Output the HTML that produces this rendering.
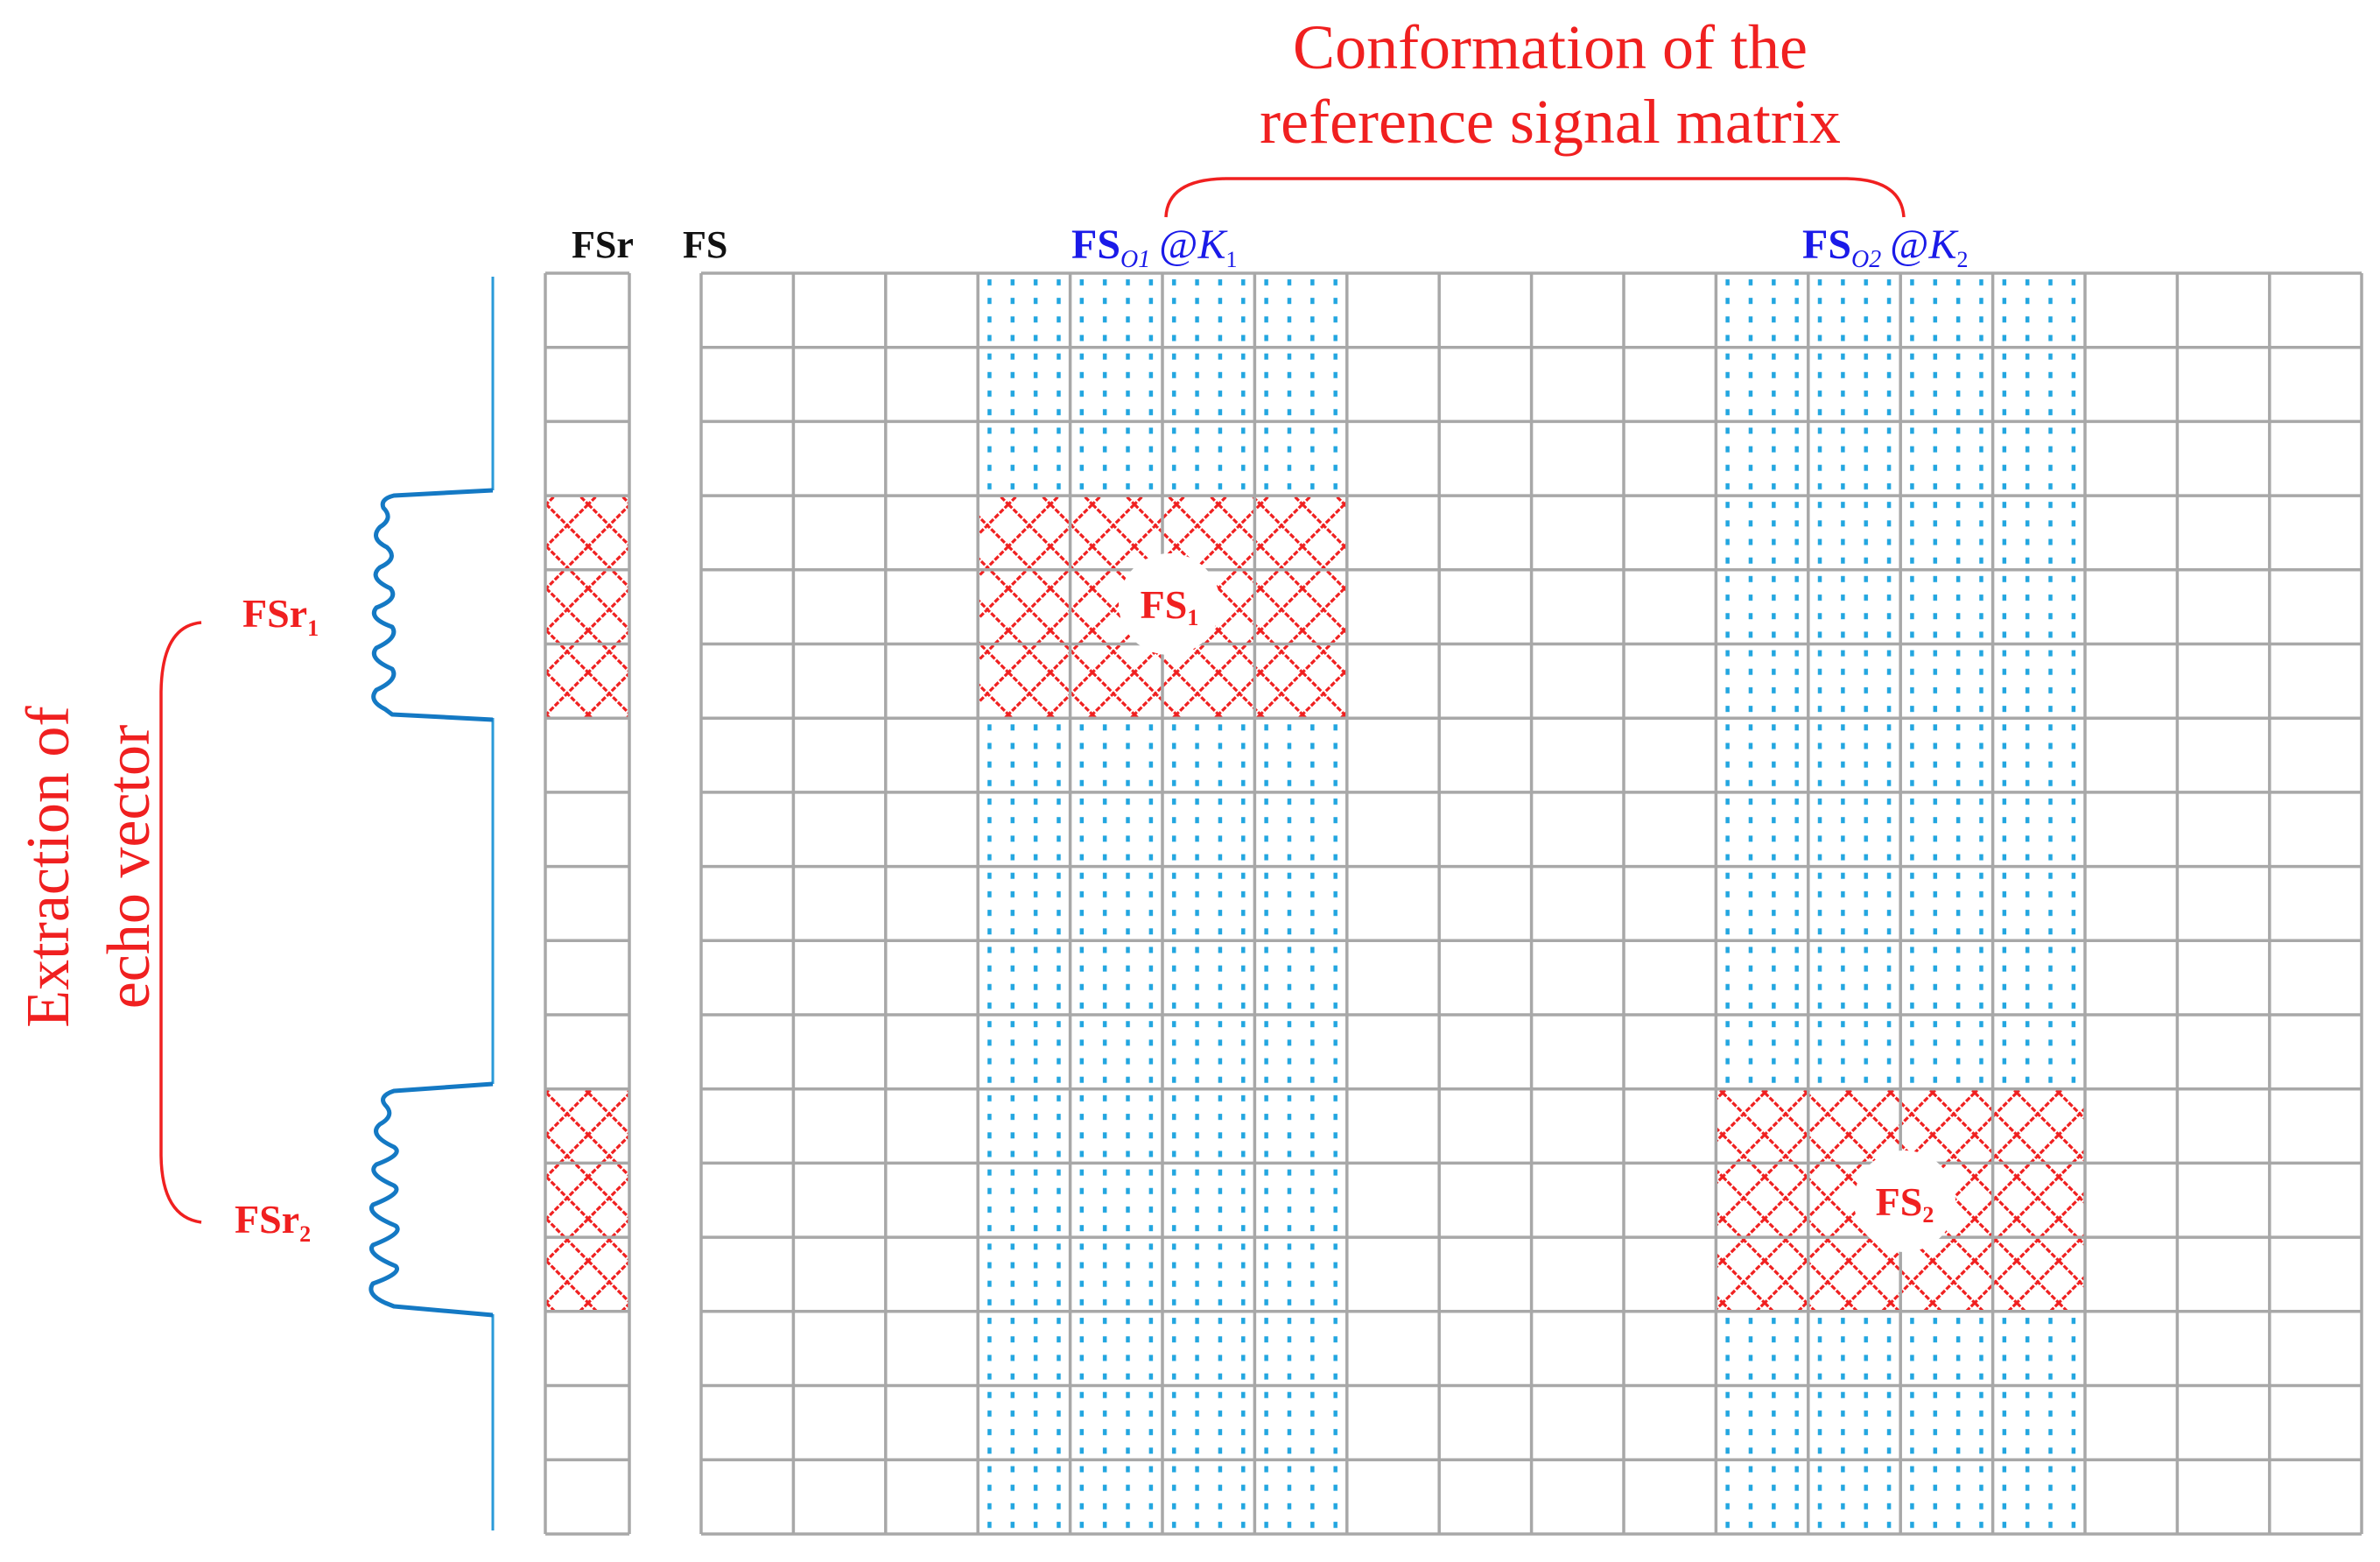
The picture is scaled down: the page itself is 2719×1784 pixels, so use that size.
<!DOCTYPE html>
<html><head><meta charset="utf-8"><style>html,body{margin:0;padding:0;background:#fff}svg{display:block}</style></head>
<body>
<svg width="2719" height="1784" viewBox="0 0 2719 1784" xmlns="http://www.w3.org/2000/svg">
<defs>
<pattern id="dots" x="801" y="312" width="26.35" height="21.18" patternUnits="userSpaceOnUse">
<rect x="11" y="7" width="4.5" height="7" fill="#22a6e0"/>
</pattern>
<pattern id="hatch" x="0" y="0" width="48" height="48" patternUnits="userSpaceOnUse">
<path d="M0 0 L48 48 M48 0 L0 48 M-24 24 L24 72 M24 -24 L72 24 M24 -24 L-24 24 M72 24 L24 72" stroke="#f02020" stroke-width="3.2" stroke-dasharray="6 2" fill="none"/>
</pattern>
</defs>
<rect width="2719" height="1784" fill="#fff"/>
<rect x="1117.2" y="312" width="421.6" height="1440" fill="url(#dots)"/>
<rect x="1960.4" y="312" width="421.6" height="1440" fill="url(#dots)"/>
<rect x="1117.2" y="566" width="421.6" height="254" fill="#fff"/>
<rect x="1117.2" y="566" width="421.6" height="254" fill="url(#hatch)"/>
<rect x="1960.4" y="1244" width="421.6" height="254" fill="#fff"/>
<rect x="1960.4" y="1244" width="421.6" height="254" fill="url(#hatch)"/>
<rect x="623" y="566" width="96" height="254" fill="url(#hatch)"/>
<rect x="623" y="1244" width="96" height="254" fill="url(#hatch)"/>
<g stroke="#a8a8a8" stroke-width="3.5" fill="none">
<path d="M801 312V1752M906.4 312V1752M1011.8 312V1752M1117.2 312V1752M1222.6 312V1752M1328 312V1752M1433.4 312V1752M1538.8 312V1752M1644.2 312V1752M1749.6 312V1752M1855 312V1752M1960.4 312V1752M2065.8 312V1752M2171.2 312V1752M2276.6 312V1752M2382 312V1752M2487.4 312V1752M2592.8 312V1752M2698 312V1752"/>
<path d="M623 312V1752M719 312V1752"/>
<path d="M801 312H2698M801 396.7H2698M801 481.4H2698M801 566.1H2698M801 650.8H2698M801 735.5H2698M801 820.2H2698M801 904.9H2698M801 989.6H2698M801 1074.3H2698M801 1159H2698M801 1243.7H2698M801 1328.4H2698M801 1413.1H2698M801 1497.8H2698M801 1582.5H2698M801 1667.2H2698M801 1752H2698"/>
<path d="M623 312H719M623 396.7H719M623 481.4H719M623 566.1H719M623 650.8H719M623 735.5H719M623 820.2H719M623 904.9H719M623 989.6H719M623 1074.3H719M623 1159H719M623 1243.7H719M623 1328.4H719M623 1413.1H719M623 1497.8H719M623 1582.5H719M623 1667.2H719M623 1752H719"/>
</g>
<circle cx="1336" cy="690" r="58" fill="#fff"/>
<circle cx="2176" cy="1372" r="58" fill="#fff"/>
<text x="1336" y="706" font-family="Liberation Serif" font-weight="bold" font-size="46" fill="#f02020" text-anchor="middle">FS<tspan font-size="26" dy="8">1</tspan></text>
<text x="2176" y="1388" font-family="Liberation Serif" font-weight="bold" font-size="46" fill="#f02020" text-anchor="middle">FS<tspan font-size="26" dy="8">2</tspan></text>
<path d="M563 316V560M563 820V1238M563 1501V1748" stroke="#2a9ad8" stroke-width="3" fill="none"/>
<path d="M563 560 L450 566 Q434 570 438 580 Q450 592 434 602 Q422 615 442 625 Q456 638 434 648 Q420 660 446 672 Q456 684 430 694 Q420 706 448 716 Q456 728 430 740 Q420 752 448 764 Q456 776 430 788 Q420 800 440 810 L448 816 L563 822" stroke="#1479c4" stroke-width="5" fill="none" stroke-linejoin="round"/>
<path d="M563 1238 L450 1246 Q432 1252 440 1262 Q452 1274 434 1284 Q420 1296 450 1310 Q462 1318 430 1330 Q418 1340 450 1354 Q462 1362 426 1376 Q418 1386 452 1400 Q462 1408 426 1422 Q418 1432 452 1446 Q460 1454 426 1466 Q418 1478 440 1488 L450 1492 L563 1502" stroke="#1479c4" stroke-width="5" fill="none" stroke-linejoin="round"/>
<path d="M230 711 Q185 715 184 790 V1320 Q185 1390 230 1396" stroke="#f02020" stroke-width="3.5" fill="none"/>
<text x="277" y="716" font-family="Liberation Serif" font-weight="bold" font-size="46" fill="#f02020">FSr<tspan font-size="26" dy="10">1</tspan></text>
<text x="268" y="1408" font-family="Liberation Serif" font-weight="bold" font-size="46" fill="#f02020">FSr<tspan font-size="26" dy="10">2</tspan></text>
<text transform="translate(78 990) rotate(-90)" font-family="Liberation Serif" font-size="70" fill="#f02020" text-anchor="middle">Extraction of</text>
<text transform="translate(170 990) rotate(-90)" font-family="Liberation Serif" font-size="70" fill="#f02020" text-anchor="middle">echo vector</text>
<text x="1771" y="78" font-family="Liberation Serif" font-size="72" fill="#f02020" text-anchor="middle">Conformation of the</text>
<text x="1771" y="163" font-family="Liberation Serif" font-size="72" fill="#f02020" text-anchor="middle">reference signal matrix</text>
<path d="M1332 248 Q1334 205 1400 204 H2110 Q2172 205 2175 248" stroke="#f02020" stroke-width="3.5" fill="none"/>
<text x="653" y="294" font-family="Liberation Serif" font-weight="bold" font-size="44" fill="#111">FSr</text>
<text x="780" y="294" font-family="Liberation Serif" font-weight="bold" font-size="44" fill="#111">FS</text>
<text x="1224" y="295" font-family="Liberation Serif" font-size="48" fill="#1a1ae8"><tspan font-weight="bold">FS</tspan><tspan font-style="italic" font-size="28" dy="10">O1</tspan><tspan dy="-10" dx="10">@</tspan><tspan font-style="italic">K</tspan><tspan font-size="26" dy="10">1</tspan></text>
<text x="2059" y="295" font-family="Liberation Serif" font-size="48" fill="#1a1ae8"><tspan font-weight="bold">FS</tspan><tspan font-style="italic" font-size="28" dy="10">O2</tspan><tspan dy="-10" dx="10">@</tspan><tspan font-style="italic">K</tspan><tspan font-size="26" dy="10">2</tspan></text>
</svg>
</body></html>
